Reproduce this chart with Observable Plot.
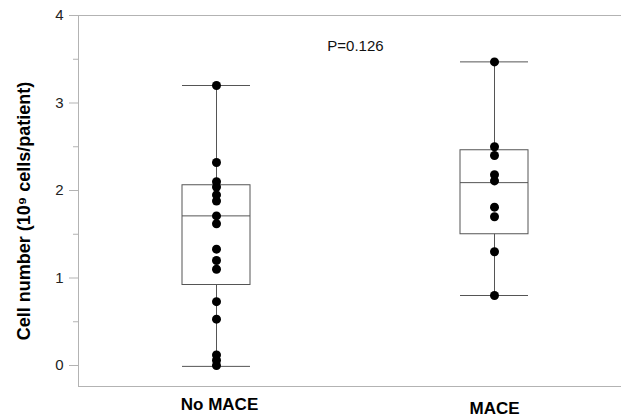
<!DOCTYPE html>
<html>
<head>
<meta charset="utf-8">
<script src="https://cdn.jsdelivr.net/npm/d3@7"></script>
<script src="https://cdn.jsdelivr.net/npm/@observablehq/plot@0.6"></script>
<style>
  html, body { margin: 0; padding: 0; background: #fff; }
  svg { font-family: "Liberation Sans", Arial, sans-serif; }
</style>
</head>
<body>
<div id="chart"></div>
<script>
// Categories
const groups = ["No MACE", "MACE"];

// Individual patient values (10^9 cells/patient)
const noMaceValues = [3.2, 2.32, 2.1, 2.04, 1.95, 1.88, 1.71, 1.62, 1.33, 1.2, 1.1, 0.73, 0.53, 0.12, 0.06, 0.0];
const maceValues = [3.47, 2.5, 2.4, 2.18, 2.11, 1.81, 1.7, 1.3, 0.8];

// Box statistics per group: [No MACE, MACE]
const whiskerLow = [-0.01, 0.8];
const q1 = [0.92, 1.5];
const median = [1.71, 2.09];
const q3 = [2.06, 2.46];
const whiskerHigh = [3.2, 3.47];

// Y axis ticks
const majorTicks = [0, 1, 2, 3, 4];
const minorTicks = [0.5, 1.5, 2.5, 3.5];

const pLabel = "P=0.126";
const yLabel = "Cell number (10\u2079 cells/patient)";

const boxes = groups.map((g, i) => ({
  group: g, lo: whiskerLow[i], q1: q1[i], med: median[i], q3: q3[i], hi: whiskerHigh[i]
}));
const points = [
  ...noMaceValues.map(v => ({group: groups[0], value: v})),
  ...maceValues.map(v => ({group: groups[1], value: v}))
];

const axisColor = "#b3b3b3";
const boxColor = "#555";

const chart = Plot.plot({
  width: 621,
  height: 420,
  marginLeft: 78,
  marginRight: 1,
  marginTop: 15,
  marginBottom: 34,
  style: {fontFamily: '"Liberation Sans", Arial, sans-serif', color: "#222"},
  x: {type: "band", domain: groups, range: [181.7, 529], paddingInner: 0.754, paddingOuter: 0, axis: null},
  y: {domain: [-0.24, 4], axis: null},
  marks: [
    Plot.frame({anchor: "top", stroke: axisColor}),
    Plot.frame({anchor: "bottom", stroke: axisColor}),
    Plot.frame({anchor: "left", stroke: axisColor}),
    Plot.axisY(majorTicks, {tickSize: 9, tickPadding: 6, fontSize: 15, tickFormat: d3.format("d"), stroke: axisColor, fill: "#222", label: null}),
    Plot.axisY(minorTicks, {tickSize: 5, tickFormat: () => "", stroke: axisColor, label: null}),
    // whiskers
    Plot.ruleX(boxes, {x: "group", y1: "lo", y2: "hi", stroke: boxColor, strokeWidth: 1}),
    // box
    Plot.barY(boxes, {x: "group", y1: "q1", y2: "q3", fill: "white", stroke: boxColor, strokeWidth: 1}),
    // median and caps
    Plot.tickY(boxes, {x: "group", y: "med", stroke: boxColor, strokeWidth: 1}),
    Plot.tickY(boxes, {x: "group", y: "lo", stroke: boxColor, strokeWidth: 1}),
    Plot.tickY(boxes, {x: "group", y: "hi", stroke: boxColor, strokeWidth: 1}),
    // points
    Plot.dot(points, {x: "group", y: "value", r: 4.5, fill: "black", stroke: "none"}),
    // group labels
    Plot.text(groups.slice(0, 1), {x: d => d, frameAnchor: "bottom", dy: 23, dx: 3, fontSize: 17, fontWeight: "bold", fill: "black"}),
    Plot.text(groups.slice(1), {x: d => d, frameAnchor: "bottom", dy: 27, fontSize: 17, fontWeight: "bold", fill: "black"}),
    // P value
    Plot.text([pLabel], {frameAnchor: "top", dx: 6, dy: 25, fontSize: 15, fill: "#111"}),
    // y label
    Plot.text([yLabel], {frameAnchor: "left", textAnchor: "middle", lineAnchor: "middle", rotate: -90, dx: -54, dy: 10, fontSize: 18, fontWeight: "bold", fill: "black"})
  ]
});
document.getElementById("chart").appendChild(chart);
</script>
</body>
</html>
